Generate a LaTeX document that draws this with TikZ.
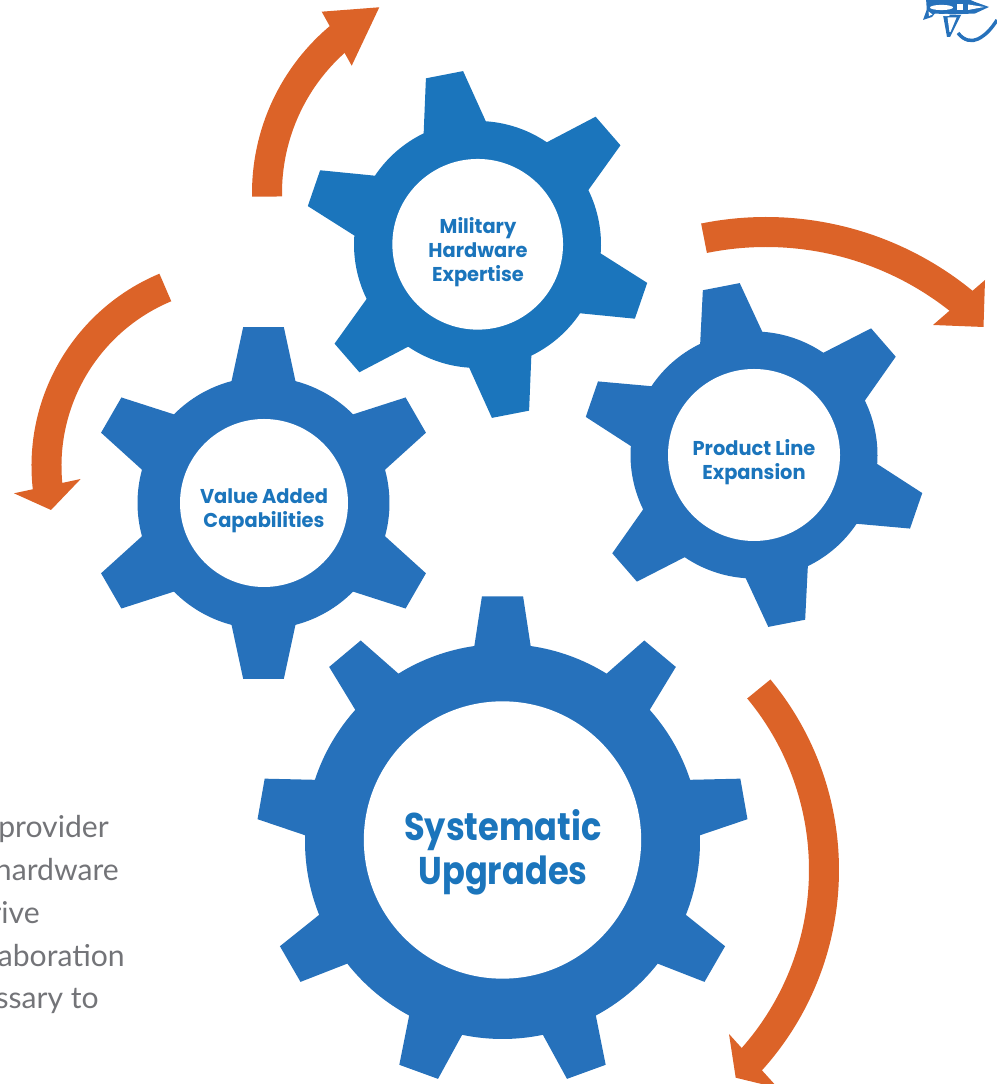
\documentclass[tikz,border=0pt]{standalone}
\usepackage{fontspec}
\newfontfamily\gearfont[FakeStretch=0.97]{Poppins}
\newfontfamily\gearbigfont[FakeStretch=0.87]{Poppins}
\setmainfont{Lato}
\definecolor{gearone}{HTML}{1B75BC}
\definecolor{geartwo}{HTML}{2671BB}
\definecolor{turncolor}{HTML}{DC6328}
\definecolor{sidegray}{HTML}{737478}
\tikzset{x=0.75pt,y=0.75pt,
    gearhole/.style={circle,fill=white,inner sep=0pt},
    gearlabel/.style={align=center,inner sep=0pt,font=\gearfont\bfseries\fontsize{15}{18}\selectfont},
    turnband/.style={draw=turncolor,line width=22.5pt}, % width of the orange bands
    turnhead/.style={fill=turncolor},
    sidetext/.style={anchor=base east,inner sep=0pt,text=sidegray,font=\fontsize{22.6}{26}\selectfont},
    planeline/.style={draw=geartwo,line width=2.6pt,line join=round}
}
% colour, x, y, teeth, first tooth angle, root r, tip r, base half angle, tip half angle
\newcommand{\gearbody}[9]{
\begin{scope}[shift={(#2,#3)}]
\fill[#1] ({#5+#8}:#6)
    \foreach \i in {1,...,#4}{
        -- ({#5-(\i-1)*360/#4+#9}:#7)
        -- ({#5-(\i-1)*360/#4-#9}:#7)
        -- ({#5-(\i-1)*360/#4-#8}:#6)
        arc[start angle={#5-(\i-1)*360/#4-#8},delta angle={-360/#4+2*#8},radius=#6]
    } -- cycle;
\end{scope}
}

\begin{document}
\begin{tikzpicture}
\useasboundingbox (0,0) rectangle (996,1084);

% gears
\gearbody{gearone}{477.5}{839.5}{6}{101}{123.5}{174}{14.85}{6.25}
\gearbody{geartwo}{754}{629}{6}{101}{123.5}{172.5}{14.85}{6.25}
\gearbody{geartwo}{263.5}{581}{6}{90}{126}{177}{14.7}{6.6}
\gearbody{geartwo}{502.5}{242.5}{9}{90}{197.5}{246}{8.2}{4.8}

\node [gearhole,minimum size=128pt] (military) at (477.7,839.7) {};
\node [gearhole,minimum size=129pt] (product)  at (754,629) {};
\node [gearhole,minimum size=126pt] (value)    at (264,581) {};
\node [gearhole,minimum size=208pt] (system)   at (502.5,244) {};

\node [gearlabel,text=gearone] (militarytext) at (478,832) {Military\\Hardware\\Expertise};
\node [gearlabel,text=gearone] (producttext)  at (754,622) {Product Line\\Expansion};
\node [gearlabel,text=gearone] (valuetext)    at (264,573) {Value Added\\Capabilities};
\node [gearlabel,text=gearone,font=\gearbigfont\bfseries\fontsize{29}{32.5}\selectfont] (systemtext) at (503,231.5) {Systematic\\Upgrades};

% orange turning arrows
\coordinate (turnA) at (470,891);
\coordinate (turnB) at (766,541);
\coordinate (turnC) at (240,618);
\coordinate (turnD) at (540,214);

\draw [turnband] ([shift={(181:203)}]turnA) arc[start angle=181,end angle=129,radius=203];
\fill [turnhead] (321.7,1072.3) -- (379.3,1076.7) -- (351.7,1018.3) -- cycle;

\draw [turnband] ([shift={(101.5:311)}]turnB) arc[start angle=101.5,end angle=49.5,radius=311];
\fill [turnhead] (985,804) -- (983.5,757) -- (933,759) -- cycle;

\draw [turnband] ([shift={(112.7:193.5)}]turnC) arc[start angle=112.7,end angle=188,radius=193.5];
\fill [turnhead] (14,590.7) -- (51,574) -- (80.7,605) -- cycle;

\draw [turnband] ([shift={(39.6:284)}]turnD) arc[start angle=39.6,end angle=-43.5,radius=284];
\fill [turnhead] (729,50) -- (735.7,6.3) -- (778,-4) -- cycle;

% cut off text on the left
\foreach \i/\xend/\yline/\txt in {1/109/246/provider,2/119/203/hardware,3/40/160/rive,4/125/117/aboration,5/99/75/ssary to}{
    \node [sidetext] (side\i) at (\xend,\yline) {\txt};
}

% plane
\fill [geartwo] (926,1086) -- (966,1086) -- (975,1082) -- (989,1077) -- (975,1070.5) -- (950,1069.5) -- (927,1071) -- cycle;
\fill [geartwo] (927,1075) -- (923,1064) -- (932,1067) -- (936,1072) -- cycle;
\fill [geartwo] (943,1069) -- (947,1047) -- (950,1047) -- (961,1069) -- cycle;
\fill [white] (941.5,1076.5) ellipse [x radius=11.5,y radius=2.6];
\fill [white] (957,1080) rectangle (963,1074);
\fill [white] (968,1079.5) -- (984,1077) -- (968,1074) -- cycle;
\fill [white] (946,1069) ellipse [x radius=4,y radius=1.2];
\fill [white] (928.5,1072.5) -- (929,1068) -- (932.5,1069.5) -- cycle;
\fill [white] (947.5,1066.5) -- (949.5,1052) -- (950.5,1052) -- (956.5,1066.5) -- cycle;
\draw [planeline] (958,1051) .. controls (964,1043) and (972,1042) .. (978,1045) .. controls (986,1049) and (992,1056) .. (997,1064);
\end{tikzpicture}
\end{document}
